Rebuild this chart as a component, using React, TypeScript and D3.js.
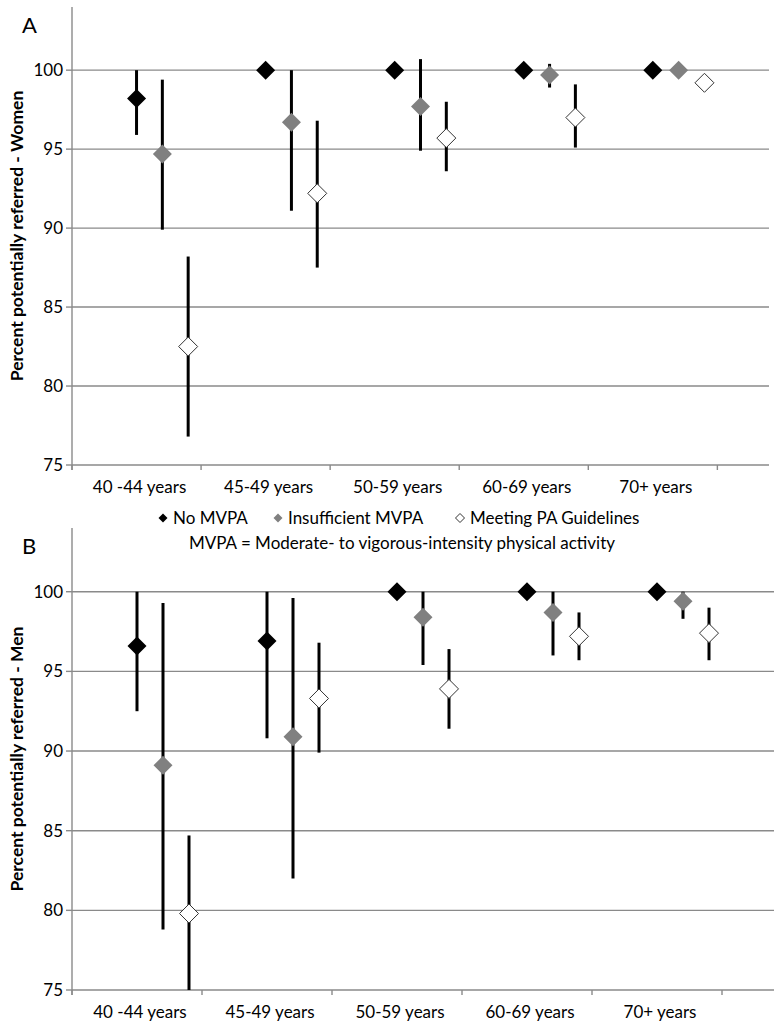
import React from "react";
import * as d3 from "d3";

const categories = ["40 -44 years", "45-49 years", "50-59 years", "60-69 years", "70+ years"];
const seriesNames = ["No MVPA", "Insufficient MVPA", "Meeting PA Guidelines"];
const yTicks = [75, 80, 85, 90, 95, 100];

// Panel A - Women
const womenNoMvpa = [98.2, 100, 100, 100, 100];
const womenNoMvpaLo = [95.9, null, null, null, null];
const womenNoMvpaHi = [100, null, null, null, null];
const womenInsuff = [94.7, 96.7, 97.7, 99.7, 100];
const womenInsuffLo = [89.9, 91.1, 94.9, 98.9, null];
const womenInsuffHi = [99.4, 100, 100.7, 100.4, null];
const womenMeet = [82.5, 92.2, 95.7, 97.0, 99.2];
const womenMeetLo = [76.8, 87.5, 93.6, 95.1, null];
const womenMeetHi = [88.2, 96.8, 98.0, 99.1, null];

// Panel B - Men
const menNoMvpa = [96.6, 96.9, 100, 100, 100];
const menNoMvpaLo = [92.5, 90.8, null, null, null];
const menNoMvpaHi = [100, 100, null, null, null];
const menInsuff = [89.1, 90.9, 98.4, 98.7, 99.4];
const menInsuffLo = [78.8, 82.0, 95.4, 96.0, 98.3];
const menInsuffHi = [99.3, 99.6, 100, 100, 100];
const menMeet = [79.8, 93.3, 93.9, 97.2, 97.4];
const menMeetLo = [75, 89.9, 91.4, 95.7, 95.7];
const menMeetHi = [84.7, 96.8, 96.4, 98.7, 99.0];

const FONT = "Lato, 'Open Sans', sans-serif";
const GRID = "#8a8a8a";
const fills = ["#000000", "#808080", "#ffffff"];
const strokes = ["none", "none", "#333333"];

type Series = { v: number[]; lo: (number | null)[]; hi: (number | null)[] };

function Panel({ letter, title, series, top, bottom, right }: { letter: string; title: string; series: Series[]; top: number; bottom: number; right: number }) {
  const left = 72;
  const y = d3.scaleLinear().domain([75, 104]).range([bottom, top]);
  const x = d3.scaleLinear().domain([0, 5.4]).range([left, right]);
  const diamond = (cx: number, cy: number, r: number) => `M${cx},${cy - r}L${cx + r},${cy}L${cx},${cy + r}L${cx - r},${cy}Z`;
  const clipId = "clip" + letter;
  return (
    <g>
      <defs>
        <clipPath id={clipId}>
          <rect x={left} y={top} width={right - left} height={bottom - top} />
        </clipPath>
      </defs>
      <text x={22} y={top + 26} fontFamily={FONT} fontSize={22} fill="#000">{letter}</text>
      {yTicks.map((t) => (
        <g key={t}>
          {t > 75 && <line x1={left} x2={right} y1={y(t)} y2={y(t)} stroke={GRID} strokeWidth={1.4} />}
          <line x1={left - 6} x2={left} y1={y(t)} y2={y(t)} stroke={GRID} strokeWidth={1.4} />
          <text x={63} y={y(t)} dy="0.35em" textAnchor="end" fontFamily={FONT} fontSize={17} fill="#000">{t}</text>
        </g>
      ))}
      <line x1={left} x2={left} y1={top} y2={bottom + 5} stroke={GRID} strokeWidth={1.4} />
      <line x1={left} x2={right} y1={bottom} y2={bottom} stroke={GRID} strokeWidth={1.4} />
      {d3.range(0, 6).map((k) => (
        <line key={k} x1={x(k)} x2={x(k)} y1={bottom} y2={bottom + 5} stroke={GRID} strokeWidth={1.4} />
      ))}
      {categories.map((c, i) => (
        <text key={c} x={x(i + 0.5) + 3} y={bottom + 22} dy="0.35em" textAnchor="middle" fontFamily={FONT} fontSize={17} fill="#000">{c}</text>
      ))}
      <text transform={`translate(23,${(top + bottom) / 2}) rotate(-90)`} textAnchor="middle" fontFamily={FONT} fontWeight="bold" fontSize={17.5} fill="#000">{title}</text>
      <g clipPath={`url(#${clipId})`}>
        {series.map((s, si) =>
          s.v.map((v, i) => {
            const lo = s.lo[i];
            const hi = s.hi[i];
            if (lo == null || hi == null) return null;
            const cx = x(i + 0.5 + 0.2 * si);
            return <line key={`e${si}-${i}`} x1={cx} x2={cx} y1={y(lo)} y2={y(hi)} stroke="#000" strokeWidth={3} />;
          })
        )}
      </g>
      {series.map((s, si) =>
        s.v.map((v, i) => (
          <path key={`d${si}-${i}`} d={diamond(x(i + 0.5 + 0.2 * si), y(v), 9.5)} fill={fills[si]} stroke={strokes[si]} strokeWidth={1} />
        ))
      )}
    </g>
  );
}

export default function App() {
  const womenSeries: Series[] = [
    { v: womenNoMvpa, lo: womenNoMvpaLo, hi: womenNoMvpaHi },
    { v: womenInsuff, lo: womenInsuffLo, hi: womenInsuffHi },
    { v: womenMeet, lo: womenMeetLo, hi: womenMeetHi },
  ];
  const menSeries: Series[] = [
    { v: menNoMvpa, lo: menNoMvpaLo, hi: menNoMvpaHi },
    { v: menInsuff, lo: menInsuffLo, hi: menInsuffHi },
    { v: menMeet, lo: menMeetLo, hi: menMeetHi },
  ];
  const legendX = [163, 278, 460];
  const small = (cx: number, cy: number, r: number) => `M${cx},${cy - r}L${cx + r},${cy}L${cx},${cy + r}L${cx - r},${cy}Z`;
  return (
    <svg width={782} height={1028} style={{ position: "absolute", left: 0, top: 0, background: "#fff" }}>
      <rect x={0} y={0} width={782} height={1028} fill="#fff" />
      <Panel letter="A" title="Percent potentially referred - Women" series={womenSeries} top={7} bottom={465} right={769} />
      <Panel letter="B" title="Percent potentially referred - Men" series={menSeries} top={528} bottom={990} right={774} />
      {seriesNames.map((n, i) => (
        <g key={n}>
          <path d={small(legendX[i], 518, 4.5)} fill={fills[i]} stroke={i === 2 ? "#333" : "none"} strokeWidth={1} />
          <text x={legendX[i] + 10} y={518} dy="0.35em" fontFamily={FONT} fontSize={17} fill="#000">{n}</text>
        </g>
      ))}
      <text x={402} y={543} dy="0.35em" textAnchor="middle" fontFamily={FONT} fontSize={17} fill="#000">MVPA = Moderate-  to vigorous-intensity physical activity</text>
    </svg>
  );
}
